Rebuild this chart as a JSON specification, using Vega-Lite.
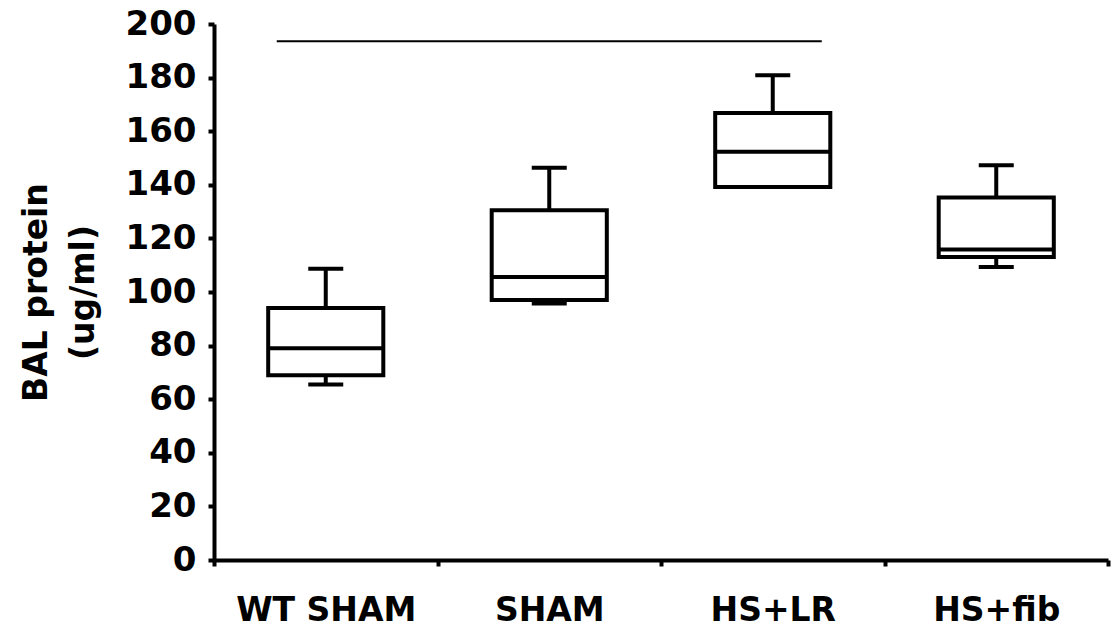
{
  "$schema": "https://vega.github.io/schema/vega-lite/v6.json",
  "autosize": "none",
  "width": 894,
  "height": 536,
  "padding": {"left": 214, "top": 24, "right": 9, "bottom": 69},
  "background": "white",
  "config": {"view": {"stroke": null}},
  "datasets": {
    "boxes": [
      {"group": "WT SHAM", "min": 65.5, "q1": 68.9, "median": 79, "q3": 94, "max": 108.7},
      {"group": "SHAM", "min": 95.7, "q1": 97, "median": 105.6, "q3": 130.5, "max": 146.4},
      {"group": "HS+LR", "min": 139.2, "q1": 139.2, "median": 152.3, "q3": 166.8, "max": 180.9},
      {"group": "HS+fib", "min": 109.3, "q1": 113.1, "median": 115.9, "q3": 135.3, "max": 147.3}
    ],
    "sig": [
      {"from": "WT SHAM", "to": "HS+LR", "y": 193.6}
    ]
  },
  "encoding": {
    "x": {
      "field": "group",
      "type": "nominal",
      "sort": ["WT SHAM", "SHAM", "HS+LR", "HS+fib"],
      "scale": {"domain": ["WT SHAM", "SHAM", "HS+LR", "HS+fib"], "paddingInner": 0, "paddingOuter": 0},
      "axis": {
        "title": null,
        "labelAngle": 0,
        "labelLimit": 0,
        "tickBand": "extent",
        "labelFont": "DejaVu Sans",
        "labelFontWeight": "bold",
        "labelFontSize": 33,
        "labelColor": "black",
        "labelPadding": 28,
        "tickSize": 6,
        "tickWidth": 4,
        "tickColor": "black",
        "domainColor": "black",
        "domainWidth": 4
      }
    }
  },
  "layer": [
    {
      "data": {"name": "boxes"},
      "mark": {"type": "rule", "color": "black", "strokeWidth": 4},
      "encoding": {
        "y": {
          "field": "min",
          "type": "quantitative",
          "scale": {"domain": [0, 200], "nice": false},
          "axis": {
            "title": ["BAL protein", "(ug/ml)"],
            "values": [0, 20, 40, 60, 80, 100, 120, 140, 160, 180, 200],
            "grid": false,
            "labelFont": "DejaVu Sans",
            "labelFontWeight": "bold",
            "labelFontSize": 34,
            "labelColor": "black",
            "labelPadding": 12,
            "tickSize": 6,
            "tickWidth": 4,
            "tickColor": "black",
            "domainColor": "black",
            "domainWidth": 4,
            "titleFont": "DejaVu Sans",
            "titleFontWeight": "bold",
            "titleFontSize": 33,
            "titleColor": "black",
            "titleLineHeight": 47,
            "titlePadding": 25
          }
        },
        "y2": {"field": "max"}
      }
    },
    {
      "data": {"name": "boxes"},
      "mark": {"type": "bar", "fill": "white", "stroke": "black", "strokeWidth": 4, "opacity": 1, "width": {"band": 0.515}},
      "encoding": {
        "y": {"field": "q1", "type": "quantitative"},
        "y2": {"field": "q3"}
      }
    },
    {
      "data": {"name": "boxes"},
      "mark": {"type": "tick", "color": "black", "opacity": 1, "size": 115, "thickness": 4},
      "encoding": {
        "y": {"field": "median", "type": "quantitative"}
      }
    },
    {
      "data": {"name": "boxes"},
      "mark": {"type": "tick", "color": "black", "opacity": 1, "size": 35, "thickness": 4},
      "encoding": {
        "y": {"field": "max", "type": "quantitative"}
      }
    },
    {
      "data": {"name": "boxes"},
      "mark": {"type": "tick", "color": "black", "opacity": 1, "size": 35, "thickness": 4},
      "encoding": {
        "y": {"field": "min", "type": "quantitative"}
      }
    },
    {
      "data": {"name": "sig"},
      "mark": {"type": "rule", "color": "black", "strokeWidth": 2, "xOffset": -49, "x2Offset": 49},
      "encoding": {
        "x": {"field": "from", "type": "nominal"},
        "x2": {"field": "to"},
        "y": {"field": "y", "type": "quantitative"}
      }
    }
  ]
}
